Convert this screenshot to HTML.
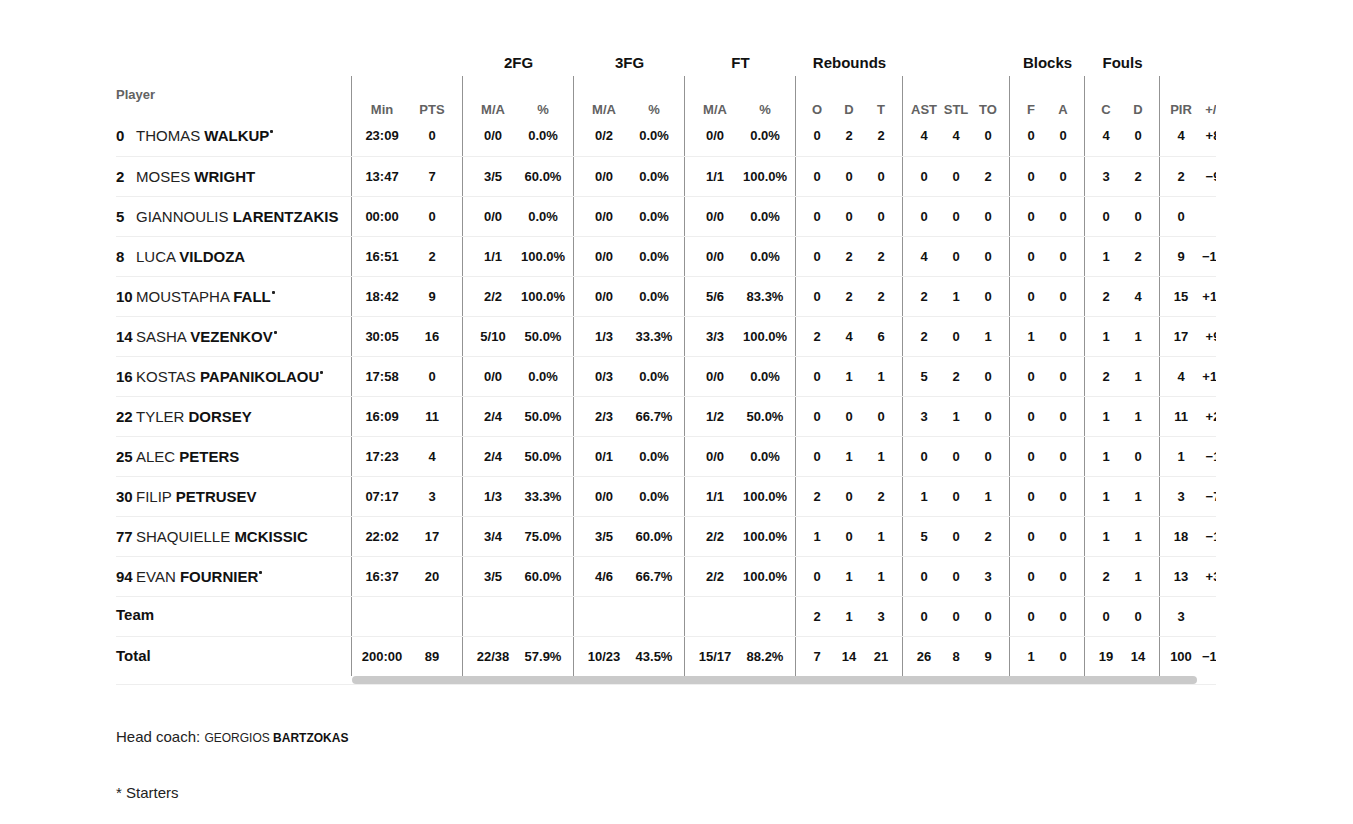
<!DOCTYPE html><html><head><meta charset="utf-8"><style>
*{margin:0;padding:0;box-sizing:border-box}
html,body{width:1353px;height:824px;overflow:hidden;background:#fff}
body{position:relative;font-family:"Liberation Sans",sans-serif;color:#111}
.a{position:absolute;white-space:nowrap}
.c{position:absolute;width:100px;text-align:center;white-space:nowrap}
.gh{font-weight:bold;font-size:15px;line-height:20px;color:#111}
.sh{font-weight:bold;font-size:13px;line-height:20px;color:#626262}
.d{font-weight:bold;font-size:13px;line-height:20px;color:#111}
.vl{position:absolute;width:1px;background:#939393;top:76px;height:600px}
.hl{position:absolute;left:116px;width:1100px;height:1px;background:#eeeeee}
.num{font-weight:bold;font-size:15px;line-height:20px;color:#111}
.nm{font-size:15px;line-height:20px;color:#222}
.nm b{color:#111}
.clip{position:absolute;left:352px;top:0;width:864px;height:824px;overflow:hidden}
.sup{display:inline-block;width:3px;height:3px;background:#222;border-radius:1px;vertical-align:top;position:relative;top:4px;margin-left:1px}
</style></head><body>
<div class="vl" style="left:351px"></div>
<div class="vl" style="left:462px"></div>
<div class="vl" style="left:573px"></div>
<div class="vl" style="left:684px"></div>
<div class="vl" style="left:795px"></div>
<div class="vl" style="left:902px"></div>
<div class="vl" style="left:1009px"></div>
<div class="vl" style="left:1084px"></div>
<div class="vl" style="left:1159px"></div>
<div class="hl" style="top:156px"></div>
<div class="hl" style="top:196px"></div>
<div class="hl" style="top:236px"></div>
<div class="hl" style="top:276px"></div>
<div class="hl" style="top:316px"></div>
<div class="hl" style="top:356px"></div>
<div class="hl" style="top:396px"></div>
<div class="hl" style="top:436px"></div>
<div class="hl" style="top:476px"></div>
<div class="hl" style="top:516px"></div>
<div class="hl" style="top:556px"></div>
<div class="hl" style="top:596px"></div>
<div class="hl" style="top:636px"></div>
<div class="hl" style="top:684px"></div>
<div class="a sh" style="left:116px;top:85px">Player</div>
<div class="clip">
<div class="c gh" style="left:116.5px;top:53px">2FG</div>
<div class="c gh" style="left:227.5px;top:53px">3FG</div>
<div class="c gh" style="left:338.5px;top:53px">FT</div>
<div class="c gh" style="left:447.5px;top:53px">Rebounds</div>
<div class="c gh" style="left:645.5px;top:53px">Blocks</div>
<div class="c gh" style="left:720.5px;top:53px">Fouls</div>
<div class="c sh" style="left:-20px;top:100px">Min</div>
<div class="c sh" style="left:30px;top:100px">PTS</div>
<div class="c sh" style="left:91px;top:100px">M/A</div>
<div class="c sh" style="left:141px;top:100px">%</div>
<div class="c sh" style="left:202px;top:100px">M/A</div>
<div class="c sh" style="left:252px;top:100px">%</div>
<div class="c sh" style="left:313px;top:100px">M/A</div>
<div class="c sh" style="left:363px;top:100px">%</div>
<div class="c sh" style="left:415px;top:100px">O</div>
<div class="c sh" style="left:447px;top:100px">D</div>
<div class="c sh" style="left:479px;top:100px">T</div>
<div class="c sh" style="left:522px;top:100px">AST</div>
<div class="c sh" style="left:554px;top:100px">STL</div>
<div class="c sh" style="left:586px;top:100px">TO</div>
<div class="c sh" style="left:629px;top:100px">F</div>
<div class="c sh" style="left:661px;top:100px">A</div>
<div class="c sh" style="left:704px;top:100px">C</div>
<div class="c sh" style="left:736px;top:100px">D</div>
<div class="c sh" style="left:779px;top:100px">PIR</div>
<div class="c sh" style="left:811px;top:100px">+/-</div>
<div class="c d" style="left:-20px;top:126px">23:09</div>
<div class="c d" style="left:30px;top:126px">0</div>
<div class="c d" style="left:91px;top:126px">0/0</div>
<div class="c d" style="left:141px;top:126px">0.0%</div>
<div class="c d" style="left:202px;top:126px">0/2</div>
<div class="c d" style="left:252px;top:126px">0.0%</div>
<div class="c d" style="left:313px;top:126px">0/0</div>
<div class="c d" style="left:363px;top:126px">0.0%</div>
<div class="c d" style="left:415px;top:126px">0</div>
<div class="c d" style="left:447px;top:126px">2</div>
<div class="c d" style="left:479px;top:126px">2</div>
<div class="c d" style="left:522px;top:126px">4</div>
<div class="c d" style="left:554px;top:126px">4</div>
<div class="c d" style="left:586px;top:126px">0</div>
<div class="c d" style="left:629px;top:126px">0</div>
<div class="c d" style="left:661px;top:126px">0</div>
<div class="c d" style="left:704px;top:126px">4</div>
<div class="c d" style="left:736px;top:126px">0</div>
<div class="c d" style="left:779px;top:126px">4</div>
<div class="c d" style="left:811px;top:126px">+8</div>
<div class="c d" style="left:-20px;top:167px">13:47</div>
<div class="c d" style="left:30px;top:167px">7</div>
<div class="c d" style="left:91px;top:167px">3/5</div>
<div class="c d" style="left:141px;top:167px">60.0%</div>
<div class="c d" style="left:202px;top:167px">0/0</div>
<div class="c d" style="left:252px;top:167px">0.0%</div>
<div class="c d" style="left:313px;top:167px">1/1</div>
<div class="c d" style="left:363px;top:167px">100.0%</div>
<div class="c d" style="left:415px;top:167px">0</div>
<div class="c d" style="left:447px;top:167px">0</div>
<div class="c d" style="left:479px;top:167px">0</div>
<div class="c d" style="left:522px;top:167px">0</div>
<div class="c d" style="left:554px;top:167px">0</div>
<div class="c d" style="left:586px;top:167px">2</div>
<div class="c d" style="left:629px;top:167px">0</div>
<div class="c d" style="left:661px;top:167px">0</div>
<div class="c d" style="left:704px;top:167px">3</div>
<div class="c d" style="left:736px;top:167px">2</div>
<div class="c d" style="left:779px;top:167px">2</div>
<div class="c d" style="left:811px;top:167px">−9</div>
<div class="c d" style="left:-20px;top:207px">00:00</div>
<div class="c d" style="left:30px;top:207px">0</div>
<div class="c d" style="left:91px;top:207px">0/0</div>
<div class="c d" style="left:141px;top:207px">0.0%</div>
<div class="c d" style="left:202px;top:207px">0/0</div>
<div class="c d" style="left:252px;top:207px">0.0%</div>
<div class="c d" style="left:313px;top:207px">0/0</div>
<div class="c d" style="left:363px;top:207px">0.0%</div>
<div class="c d" style="left:415px;top:207px">0</div>
<div class="c d" style="left:447px;top:207px">0</div>
<div class="c d" style="left:479px;top:207px">0</div>
<div class="c d" style="left:522px;top:207px">0</div>
<div class="c d" style="left:554px;top:207px">0</div>
<div class="c d" style="left:586px;top:207px">0</div>
<div class="c d" style="left:629px;top:207px">0</div>
<div class="c d" style="left:661px;top:207px">0</div>
<div class="c d" style="left:704px;top:207px">0</div>
<div class="c d" style="left:736px;top:207px">0</div>
<div class="c d" style="left:779px;top:207px">0</div>
<div class="c d" style="left:-20px;top:247px">16:51</div>
<div class="c d" style="left:30px;top:247px">2</div>
<div class="c d" style="left:91px;top:247px">1/1</div>
<div class="c d" style="left:141px;top:247px">100.0%</div>
<div class="c d" style="left:202px;top:247px">0/0</div>
<div class="c d" style="left:252px;top:247px">0.0%</div>
<div class="c d" style="left:313px;top:247px">0/0</div>
<div class="c d" style="left:363px;top:247px">0.0%</div>
<div class="c d" style="left:415px;top:247px">0</div>
<div class="c d" style="left:447px;top:247px">2</div>
<div class="c d" style="left:479px;top:247px">2</div>
<div class="c d" style="left:522px;top:247px">4</div>
<div class="c d" style="left:554px;top:247px">0</div>
<div class="c d" style="left:586px;top:247px">0</div>
<div class="c d" style="left:629px;top:247px">0</div>
<div class="c d" style="left:661px;top:247px">0</div>
<div class="c d" style="left:704px;top:247px">1</div>
<div class="c d" style="left:736px;top:247px">2</div>
<div class="c d" style="left:779px;top:247px">9</div>
<div class="c d" style="left:811px;top:247px">−10</div>
<div class="c d" style="left:-20px;top:287px">18:42</div>
<div class="c d" style="left:30px;top:287px">9</div>
<div class="c d" style="left:91px;top:287px">2/2</div>
<div class="c d" style="left:141px;top:287px">100.0%</div>
<div class="c d" style="left:202px;top:287px">0/0</div>
<div class="c d" style="left:252px;top:287px">0.0%</div>
<div class="c d" style="left:313px;top:287px">5/6</div>
<div class="c d" style="left:363px;top:287px">83.3%</div>
<div class="c d" style="left:415px;top:287px">0</div>
<div class="c d" style="left:447px;top:287px">2</div>
<div class="c d" style="left:479px;top:287px">2</div>
<div class="c d" style="left:522px;top:287px">2</div>
<div class="c d" style="left:554px;top:287px">1</div>
<div class="c d" style="left:586px;top:287px">0</div>
<div class="c d" style="left:629px;top:287px">0</div>
<div class="c d" style="left:661px;top:287px">0</div>
<div class="c d" style="left:704px;top:287px">2</div>
<div class="c d" style="left:736px;top:287px">4</div>
<div class="c d" style="left:779px;top:287px">15</div>
<div class="c d" style="left:811px;top:287px">+11</div>
<div class="c d" style="left:-20px;top:327px">30:05</div>
<div class="c d" style="left:30px;top:327px">16</div>
<div class="c d" style="left:91px;top:327px">5/10</div>
<div class="c d" style="left:141px;top:327px">50.0%</div>
<div class="c d" style="left:202px;top:327px">1/3</div>
<div class="c d" style="left:252px;top:327px">33.3%</div>
<div class="c d" style="left:313px;top:327px">3/3</div>
<div class="c d" style="left:363px;top:327px">100.0%</div>
<div class="c d" style="left:415px;top:327px">2</div>
<div class="c d" style="left:447px;top:327px">4</div>
<div class="c d" style="left:479px;top:327px">6</div>
<div class="c d" style="left:522px;top:327px">2</div>
<div class="c d" style="left:554px;top:327px">0</div>
<div class="c d" style="left:586px;top:327px">1</div>
<div class="c d" style="left:629px;top:327px">1</div>
<div class="c d" style="left:661px;top:327px">0</div>
<div class="c d" style="left:704px;top:327px">1</div>
<div class="c d" style="left:736px;top:327px">1</div>
<div class="c d" style="left:779px;top:327px">17</div>
<div class="c d" style="left:811px;top:327px">+9</div>
<div class="c d" style="left:-20px;top:367px">17:58</div>
<div class="c d" style="left:30px;top:367px">0</div>
<div class="c d" style="left:91px;top:367px">0/0</div>
<div class="c d" style="left:141px;top:367px">0.0%</div>
<div class="c d" style="left:202px;top:367px">0/3</div>
<div class="c d" style="left:252px;top:367px">0.0%</div>
<div class="c d" style="left:313px;top:367px">0/0</div>
<div class="c d" style="left:363px;top:367px">0.0%</div>
<div class="c d" style="left:415px;top:367px">0</div>
<div class="c d" style="left:447px;top:367px">1</div>
<div class="c d" style="left:479px;top:367px">1</div>
<div class="c d" style="left:522px;top:367px">5</div>
<div class="c d" style="left:554px;top:367px">2</div>
<div class="c d" style="left:586px;top:367px">0</div>
<div class="c d" style="left:629px;top:367px">0</div>
<div class="c d" style="left:661px;top:367px">0</div>
<div class="c d" style="left:704px;top:367px">2</div>
<div class="c d" style="left:736px;top:367px">1</div>
<div class="c d" style="left:779px;top:367px">4</div>
<div class="c d" style="left:811px;top:367px">+11</div>
<div class="c d" style="left:-20px;top:407px">16:09</div>
<div class="c d" style="left:30px;top:407px">11</div>
<div class="c d" style="left:91px;top:407px">2/4</div>
<div class="c d" style="left:141px;top:407px">50.0%</div>
<div class="c d" style="left:202px;top:407px">2/3</div>
<div class="c d" style="left:252px;top:407px">66.7%</div>
<div class="c d" style="left:313px;top:407px">1/2</div>
<div class="c d" style="left:363px;top:407px">50.0%</div>
<div class="c d" style="left:415px;top:407px">0</div>
<div class="c d" style="left:447px;top:407px">0</div>
<div class="c d" style="left:479px;top:407px">0</div>
<div class="c d" style="left:522px;top:407px">3</div>
<div class="c d" style="left:554px;top:407px">1</div>
<div class="c d" style="left:586px;top:407px">0</div>
<div class="c d" style="left:629px;top:407px">0</div>
<div class="c d" style="left:661px;top:407px">0</div>
<div class="c d" style="left:704px;top:407px">1</div>
<div class="c d" style="left:736px;top:407px">1</div>
<div class="c d" style="left:779px;top:407px">11</div>
<div class="c d" style="left:811px;top:407px">+2</div>
<div class="c d" style="left:-20px;top:447px">17:23</div>
<div class="c d" style="left:30px;top:447px">4</div>
<div class="c d" style="left:91px;top:447px">2/4</div>
<div class="c d" style="left:141px;top:447px">50.0%</div>
<div class="c d" style="left:202px;top:447px">0/1</div>
<div class="c d" style="left:252px;top:447px">0.0%</div>
<div class="c d" style="left:313px;top:447px">0/0</div>
<div class="c d" style="left:363px;top:447px">0.0%</div>
<div class="c d" style="left:415px;top:447px">0</div>
<div class="c d" style="left:447px;top:447px">1</div>
<div class="c d" style="left:479px;top:447px">1</div>
<div class="c d" style="left:522px;top:447px">0</div>
<div class="c d" style="left:554px;top:447px">0</div>
<div class="c d" style="left:586px;top:447px">0</div>
<div class="c d" style="left:629px;top:447px">0</div>
<div class="c d" style="left:661px;top:447px">0</div>
<div class="c d" style="left:704px;top:447px">1</div>
<div class="c d" style="left:736px;top:447px">0</div>
<div class="c d" style="left:779px;top:447px">1</div>
<div class="c d" style="left:811px;top:447px">−1</div>
<div class="c d" style="left:-20px;top:487px">07:17</div>
<div class="c d" style="left:30px;top:487px">3</div>
<div class="c d" style="left:91px;top:487px">1/3</div>
<div class="c d" style="left:141px;top:487px">33.3%</div>
<div class="c d" style="left:202px;top:487px">0/0</div>
<div class="c d" style="left:252px;top:487px">0.0%</div>
<div class="c d" style="left:313px;top:487px">1/1</div>
<div class="c d" style="left:363px;top:487px">100.0%</div>
<div class="c d" style="left:415px;top:487px">2</div>
<div class="c d" style="left:447px;top:487px">0</div>
<div class="c d" style="left:479px;top:487px">2</div>
<div class="c d" style="left:522px;top:487px">1</div>
<div class="c d" style="left:554px;top:487px">0</div>
<div class="c d" style="left:586px;top:487px">1</div>
<div class="c d" style="left:629px;top:487px">0</div>
<div class="c d" style="left:661px;top:487px">0</div>
<div class="c d" style="left:704px;top:487px">1</div>
<div class="c d" style="left:736px;top:487px">1</div>
<div class="c d" style="left:779px;top:487px">3</div>
<div class="c d" style="left:811px;top:487px">−7</div>
<div class="c d" style="left:-20px;top:527px">22:02</div>
<div class="c d" style="left:30px;top:527px">17</div>
<div class="c d" style="left:91px;top:527px">3/4</div>
<div class="c d" style="left:141px;top:527px">75.0%</div>
<div class="c d" style="left:202px;top:527px">3/5</div>
<div class="c d" style="left:252px;top:527px">60.0%</div>
<div class="c d" style="left:313px;top:527px">2/2</div>
<div class="c d" style="left:363px;top:527px">100.0%</div>
<div class="c d" style="left:415px;top:527px">1</div>
<div class="c d" style="left:447px;top:527px">0</div>
<div class="c d" style="left:479px;top:527px">1</div>
<div class="c d" style="left:522px;top:527px">5</div>
<div class="c d" style="left:554px;top:527px">0</div>
<div class="c d" style="left:586px;top:527px">2</div>
<div class="c d" style="left:629px;top:527px">0</div>
<div class="c d" style="left:661px;top:527px">0</div>
<div class="c d" style="left:704px;top:527px">1</div>
<div class="c d" style="left:736px;top:527px">1</div>
<div class="c d" style="left:779px;top:527px">18</div>
<div class="c d" style="left:811px;top:527px">−1</div>
<div class="c d" style="left:-20px;top:567px">16:37</div>
<div class="c d" style="left:30px;top:567px">20</div>
<div class="c d" style="left:91px;top:567px">3/5</div>
<div class="c d" style="left:141px;top:567px">60.0%</div>
<div class="c d" style="left:202px;top:567px">4/6</div>
<div class="c d" style="left:252px;top:567px">66.7%</div>
<div class="c d" style="left:313px;top:567px">2/2</div>
<div class="c d" style="left:363px;top:567px">100.0%</div>
<div class="c d" style="left:415px;top:567px">0</div>
<div class="c d" style="left:447px;top:567px">1</div>
<div class="c d" style="left:479px;top:567px">1</div>
<div class="c d" style="left:522px;top:567px">0</div>
<div class="c d" style="left:554px;top:567px">0</div>
<div class="c d" style="left:586px;top:567px">3</div>
<div class="c d" style="left:629px;top:567px">0</div>
<div class="c d" style="left:661px;top:567px">0</div>
<div class="c d" style="left:704px;top:567px">2</div>
<div class="c d" style="left:736px;top:567px">1</div>
<div class="c d" style="left:779px;top:567px">13</div>
<div class="c d" style="left:811px;top:567px">+3</div>
<div class="c d" style="left:415px;top:607px">2</div>
<div class="c d" style="left:447px;top:607px">1</div>
<div class="c d" style="left:479px;top:607px">3</div>
<div class="c d" style="left:522px;top:607px">0</div>
<div class="c d" style="left:554px;top:607px">0</div>
<div class="c d" style="left:586px;top:607px">0</div>
<div class="c d" style="left:629px;top:607px">0</div>
<div class="c d" style="left:661px;top:607px">0</div>
<div class="c d" style="left:704px;top:607px">0</div>
<div class="c d" style="left:736px;top:607px">0</div>
<div class="c d" style="left:779px;top:607px">3</div>
<div class="c d" style="left:-20px;top:647px">200:00</div>
<div class="c d" style="left:30px;top:647px">89</div>
<div class="c d" style="left:91px;top:647px">22/38</div>
<div class="c d" style="left:141px;top:647px">57.9%</div>
<div class="c d" style="left:202px;top:647px">10/23</div>
<div class="c d" style="left:252px;top:647px">43.5%</div>
<div class="c d" style="left:313px;top:647px">15/17</div>
<div class="c d" style="left:363px;top:647px">88.2%</div>
<div class="c d" style="left:415px;top:647px">7</div>
<div class="c d" style="left:447px;top:647px">14</div>
<div class="c d" style="left:479px;top:647px">21</div>
<div class="c d" style="left:522px;top:647px">26</div>
<div class="c d" style="left:554px;top:647px">8</div>
<div class="c d" style="left:586px;top:647px">9</div>
<div class="c d" style="left:629px;top:647px">1</div>
<div class="c d" style="left:661px;top:647px">0</div>
<div class="c d" style="left:704px;top:647px">19</div>
<div class="c d" style="left:736px;top:647px">14</div>
<div class="c d" style="left:779px;top:647px">100</div>
<div class="c d" style="left:811px;top:647px">−10</div>
<div class="a" style="left:0;top:676px;width:845px;height:8px;border-radius:4px;background:#cacaca"></div>
</div>
<div class="a num" style="left:116px;top:126px">0</div>
<div class="a nm" style="left:136px;top:126px">THOMAS <b>WALKUP</b><span class="sup"></span></div>
<div class="a num" style="left:116px;top:167px">2</div>
<div class="a nm" style="left:136px;top:167px">MOSES <b>WRIGHT</b></div>
<div class="a num" style="left:116px;top:207px">5</div>
<div class="a nm" style="left:136px;top:207px">GIANNOULIS <b>LARENTZAKIS</b></div>
<div class="a num" style="left:116px;top:247px">8</div>
<div class="a nm" style="left:136px;top:247px">LUCA <b>VILDOZA</b></div>
<div class="a num" style="left:116px;top:287px">10</div>
<div class="a nm" style="left:136px;top:287px">MOUSTAPHA <b>FALL</b><span class="sup"></span></div>
<div class="a num" style="left:116px;top:327px">14</div>
<div class="a nm" style="left:136px;top:327px">SASHA <b>VEZENKOV</b><span class="sup"></span></div>
<div class="a num" style="left:116px;top:367px">16</div>
<div class="a nm" style="left:136px;top:367px">KOSTAS <b>PAPANIKOLAOU</b><span class="sup"></span></div>
<div class="a num" style="left:116px;top:407px">22</div>
<div class="a nm" style="left:136px;top:407px">TYLER <b>DORSEY</b></div>
<div class="a num" style="left:116px;top:447px">25</div>
<div class="a nm" style="left:136px;top:447px">ALEC <b>PETERS</b></div>
<div class="a num" style="left:116px;top:487px">30</div>
<div class="a nm" style="left:136px;top:487px">FILIP <b>PETRUSEV</b></div>
<div class="a num" style="left:116px;top:527px">77</div>
<div class="a nm" style="left:136px;top:527px">SHAQUIELLE <b>MCKISSIC</b></div>
<div class="a num" style="left:116px;top:567px">94</div>
<div class="a nm" style="left:136px;top:567px">EVAN <b>FOURNIER</b><span class="sup"></span></div>
<div class="a num" style="left:116px;top:605px">Team</div>
<div class="a num" style="left:116px;top:646px">Total</div>
<div class="a" style="left:116px;top:727px;font-size:15px;line-height:20px;color:#222">Head coach: <span style="font-size:12px">GEORGIOS <b style="color:#111">BARTZOKAS</b></span></div>
<div class="a" style="left:116px;top:783px;font-size:15px;line-height:20px;color:#222">* Starters</div>
</body></html>
